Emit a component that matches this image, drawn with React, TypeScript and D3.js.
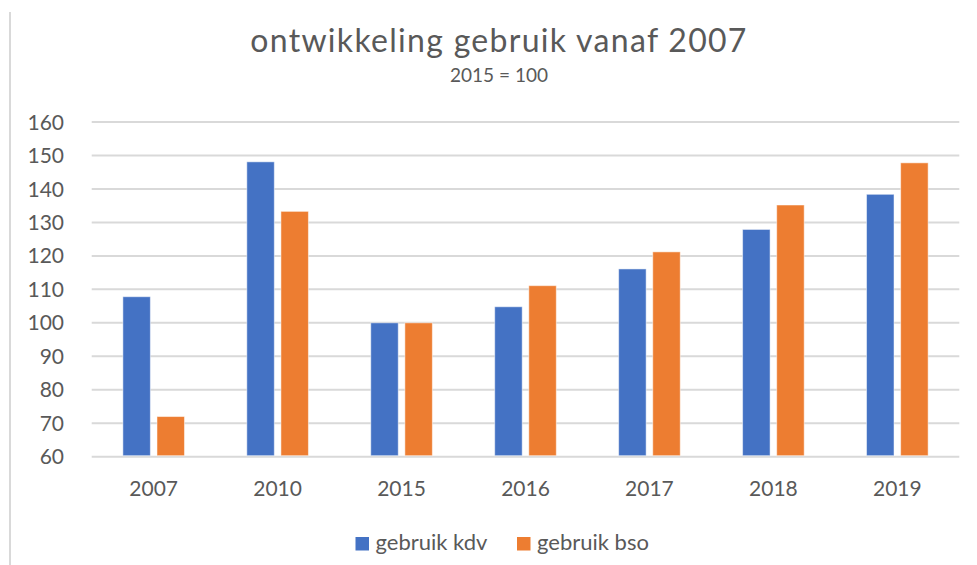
import React from "react";
import * as d3 from "d3";

const categories = ["2007", "2010", "2015", "2016", "2017", "2018", "2019"];
const seriesNames = ["gebruik kdv", "gebruik bso"];
const kdvValues = [107.8, 148.1, 100, 104.8, 116.1, 127.9, 138.4];
const bsoValues = [72, 133.3, 100, 111.1, 121.2, 135.2, 147.8];
const yTicks = [60, 70, 80, 90, 100, 110, 120, 130, 140, 150, 160];
const colors = ["#4472C4", "#ED7D31"];

const W = 977;
const H = 565;
const FONT = "Lato, 'Open Sans', sans-serif";

export default function App() {
  const plotLeft = 91.7;
  const plotRight = 959.3;
  const plotTop = 122;
  const plotBottom = 456.7;

  const x = d3.scaleBand<string>().domain(categories).range([plotLeft, plotRight]).padding(0);
  const y = d3.scaleLinear().domain([60, 160]).range([plotBottom, plotTop]);
  const groupHalf = 30.8;
  const inner = d3
    .scaleBand<string>()
    .domain(seriesNames)
    .range([-groupHalf, groupHalf])
    .paddingInner(0.194)
    .paddingOuter(0);

  const seriesData = [kdvValues, bsoValues];

  return (
    <svg
      width={W}
      height={H}
      style={{ position: "absolute", left: 0, top: 0, background: "#fff" }}
      fontFamily={FONT}
    >
      <rect x={0} y={0} width={W} height={H} fill="#fff" />
      <line x1={10} x2={10} y1={12} y2={H} stroke="#d9d9d9" strokeWidth={2} />

      <text x={499} y={52} textAnchor="middle" fontSize={32} letterSpacing={1.3} fill="#595959">
        ontwikkeling gebruik vanaf 2007
      </text>
      <text x={499} y={82} textAnchor="middle" fontSize={19} fill="#595959">
        2015 = 100
      </text>

      {yTicks.map((t) => (
        <g key={t}>
          <line x1={plotLeft} x2={plotRight} y1={y(t)} y2={y(t)} stroke="#d9d9d9" strokeWidth={2} />
          <text x={64} y={y(t)} dy="0.36em" textAnchor="end" fontSize={21} fill="#595959">
            {t}
          </text>
        </g>
      ))}

      {categories.map((c, i) => {
        const cx = (x(c) as number) + x.bandwidth() / 2;
        return (
          <g key={c}>
            {seriesNames.map((s, j) => {
              const v = seriesData[j][i];
              return (
                <rect
                  key={s}
                  x={cx + (inner(s) as number)}
                  y={y(v)}
                  width={inner.bandwidth()}
                  height={plotBottom - y(v) - 1}
                  fill={colors[j]}
                  stroke="#ffffff"
                  strokeOpacity={0.5}
                  strokeWidth={1}
                />
              );
            })}
            <text x={cx} y={496} textAnchor="middle" fontSize={21} fill="#595959">
              {c}
            </text>
          </g>
        );
      })}

      {seriesNames.map((s, j) => {
        const lx = [355.5, 517][j];
        return (
          <g key={s}>
            <rect x={lx} y={537} width={13.5} height={13.5} fill={colors[j]} />
            <text x={lx + 20} y={550} fontSize={22} fill="#595959">
              {s}
            </text>
          </g>
        );
      })}
    </svg>
  );
}
